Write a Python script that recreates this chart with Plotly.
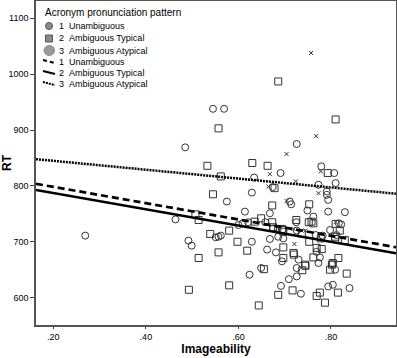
import plotly.graph_objects as go

# Unambiguous (1) - circles
unamb_x = [0.269,0.464,0.485,0.492,0.499,0.545,0.569,0.551,0.557,0.562,0.575,0.600,0.609,0.614,0.621,0.624,0.629,0.629,0.634,0.649,0.658,0.662,0.668,0.668,0.674,0.675,0.681,0.685,0.686,0.691,0.692,0.694,0.697,0.709,0.711,0.714,0.725,0.726,0.726,0.726,0.726,0.730,0.735,0.749,0.762,0.767,0.769,0.773,0.773,0.776,0.779,0.782,0.791,0.791,0.794,0.794,0.794,0.798,0.802,0.804,0.807,0.809,0.810,0.812,0.817,0.830,0.840,0.822]
unamb_y = [711,740,869,702,693,938,938,708,709,711,772,730,733,754,735,641,700,788,815,653,735,686,751,705,798,724,681,723,709,823,621,665,706,633,772,767,735,720,875,653,638,668,607,756,745,712,682,802,662,672,835,711,790,784,775,754,620,721,660,623,823,650,805,712,733,753,617,731]

# Ambiguous Typical (2) - squares
typ_x = [0.493,0.507,0.514,0.514,0.533,0.539,0.545,0.557,0.557,0.562,0.580,0.580,0.598,0.619,0.630,0.635,0.644,0.649,0.655,0.663,0.673,0.673,0.678,0.675,0.686,0.686,0.694,0.696,0.697,0.697,0.697,0.717,0.719,0.720,0.725,0.737,0.738,0.744,0.745,0.752,0.753,0.753,0.758,0.762,0.762,0.769,0.769,0.776,0.778,0.780,0.787,0.793,0.798,0.802,0.804,0.809,0.809,0.810,0.810,0.815,0.816,0.819,0.830,0.834]
typ_y = [614,749,739,671,836,714,785,903,681,817,720,622,700,684,841,736,586,742,651,836,735,765,796,726,987,605,723,721,718,690,671,613,680,677,739,715,649,659,657,735,767,700,736,733,672,689,603,609,706,687,591,823,650,659,662,705,709,732,919,609,671,720,703,643]

# Ambiguous Atypical (3) - crosses
atyp_x = [0.665,0.668,0.704,0.704,0.719,0.721,0.724,0.745,0.757,0.768,0.773,0.778,0.810]
atyp_y = [799,821,857,773,723,696,808,720,1038,889,787,826,735]

# Fit lines (intercept, slope)
fit_unamb = (827.5, -146.0)
fit_typ = (816.5, -146.0)
fit_atyp = (860.8, -79.5)

legend_title = "Acronym pronunciation pattern"
legend_codes = ["1", "2", "3", "1", "2", "3"]
legend_names = ["Unambiguous", "Ambiguous Typical", "Ambiguous Atypical",
                "Unambiguous", "Ambiguous Typical", "Ambiguous Atypical"]

x_range = [0.1626, 0.9405]
y_range = [551, 1131]
ink = "#333333"
FONT = "Liberation Sans, Arial, sans-serif"

# plot area in pixels (for legend placement)
L, R, T, B = 36, 396, 1, 325
def px(xp):
    return (xp - L) / (R - L)
def py(yp):
    return (B - yp) / (B - T)

fig = go.Figure()

def add_points(xs, ys, symbol, size):
    fig.add_trace(go.Scatter(x=xs, y=ys, mode="markers", showlegend=False,
                             marker=dict(symbol=symbol, size=size, color=ink,
                                         line=dict(color=ink, width=1))))

add_points(unamb_x, unamb_y, "circle-open", 7)
add_points(typ_x, typ_y, "square-open", 7)
add_points(atyp_x, atyp_y, "x-thin", 4)

def add_fit(fit, dash, width):
    b0, b1 = fit
    xs = x_range
    ys = [b0 + b1 * v for v in xs]
    fig.add_trace(go.Scatter(x=xs, y=ys, mode="lines", showlegend=False,
                             line=dict(color="black", width=width, dash=dash)))

add_fit(fit_unamb, "7px,4px", 2.7)
add_fit(fit_typ, "solid", 2.5)
add_fit(fit_atyp, "2px,1px", 2.5)

# ---- manual legend (SPSS style, compact) ----
shapes = []
annotations = []
annotations.append(dict(xref="paper", yref="paper", x=px(43), y=py(12.5), text=legend_title,
                        showarrow=False, xanchor="left", yanchor="middle",
                        font=dict(size=10, family=FONT, color="black")))
row_y = [26, 38.5, 50.5, 61.5, 72.5, 83.5]
for i, (c, n) in enumerate(zip(legend_codes, legend_names)):
    yy = row_y[i]
    annotations.append(dict(xref="paper", yref="paper", x=px(57), y=py(yy), text=c,
                            showarrow=False, xanchor="left", yanchor="middle",
                            font=dict(size=9, family=FONT, color="black")))
    annotations.append(dict(xref="paper", yref="paper", x=px(67), y=py(yy), text=n,
                            showarrow=False, xanchor="left", yanchor="middle",
                            font=dict(size=9, family=FONT, color="black")))
# marker swatches
shapes.append(dict(type="circle", xref="paper", yref="paper",
                   x0=px(45.5), x1=px(52.5), y0=py(29.5), y1=py(22.5),
                   fillcolor="#8a8a8a", line=dict(color="#555", width=1)))
shapes.append(dict(type="rect", xref="paper", yref="paper",
                   x0=px(45.5), x1=px(52.5), y0=py(42), y1=py(35),
                   fillcolor="#8a8a8a", line=dict(color="#555", width=1)))
shapes.append(dict(type="circle", xref="paper", yref="paper",
                   x0=px(44), x1=px(54.5), y0=py(55.5), y1=py(45.5),
                   fillcolor="#9a9a9a", line=dict(color="#888", width=1)))
# line swatches
for yy, dash in [(61.5, "4px,3px"), (72.5, "solid"), (83.5, "2px,1px")]:
    shapes.append(dict(type="line", xref="paper", yref="paper",
                       x0=px(43), x1=px(55), y0=py(yy - 1.5), y1=py(yy + 1.5),
                       line=dict(color="black", width=2, dash=dash)))

fig.update_layout(
    width=397, height=358,
    margin=dict(l=L, r=397 - R, t=T, b=358 - B),
    paper_bgcolor="white", plot_bgcolor="white",
    font=dict(family=FONT, size=9, color="black"),
    showlegend=False,
    shapes=shapes,
    annotations=annotations,
)
fig.update_xaxes(range=x_range, tickvals=[0.2, 0.4, 0.6, 0.8],
                 ticktext=[".20", ".40", ".60", ".80"],
                 ticks="outside", ticklen=2, tickcolor="#444",
                 showline=True, linecolor="#555", linewidth=1.5, mirror=True,
                 showgrid=False, zeroline=False, automargin=False,
                 title=dict(text="<b>Imageability</b>", font=dict(size=12), standoff=4))
fig.update_yaxes(range=y_range, tickvals=[600, 700, 800, 900, 1000, 1100],
                 ticks="outside", ticklen=4, tickcolor="#444",
                 showline=True, linecolor="#555", linewidth=1.5, mirror=True,
                 showgrid=False, zeroline=False, automargin=False,
                 title=dict(text="<b>RT</b>", font=dict(size=12), standoff=2))

fig.write_html("out.html", config={"displayModeBar": False},
               post_script="document.body.style.margin='0';document.body.style.padding='0';")
